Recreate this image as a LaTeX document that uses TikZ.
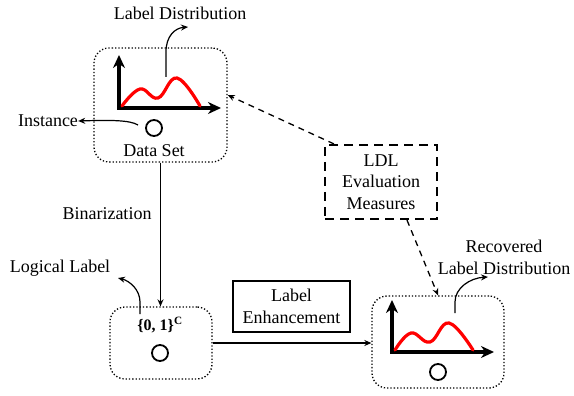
\documentclass[tikz,border=0pt]{standalone}
\usepackage{fontspec}
\setmainfont{Liberation Serif}
\usetikzlibrary{arrows.meta,calc}
\begin{document}
\begin{tikzpicture}[x=1pt,y=-1pt,
  lbl/.style={font=\fontsize{18}{22}\selectfont, inner sep=0pt, align=center},
  dotbox/.style={draw, dotted, line width=1.3pt, rounded corners=15pt, inner sep=0pt},
  inst/.style={draw, circle, line width=1.8pt, minimum size=16pt, inner sep=0pt},
  conn/.style={line width=1.2pt, -{Stealth[length=7pt,width=6pt]}},
  axis/.style={line width=3.5pt, {Stealth[length=13pt,width=12pt]}-{Stealth[length=13pt,width=12pt]}},
  curve/.style={red, line width=3.2pt, line cap=round},
  dashconn/.style={line width=1.3pt, dashed, dash pattern=on 6pt off 5pt, -{Stealth[length=7pt,width=6pt]}}
]
\useasboundingbox (0,0) rectangle (574,396);

% boxes
\node[dotbox, minimum width=133pt, minimum height=114pt] (ds) at (160.5,105) {};
\node[dotbox, minimum width=102pt, minimum height=72pt] (ll) at (161,343) {};
\node[dotbox, minimum width=132pt, minimum height=92pt] (rl) at (438,342) {};
\node[draw, line width=1.2pt, minimum width=117pt, minimum height=51pt, inner sep=0pt] (le) at (291.5,306.5) {};
\node[draw, line width=2.2pt, dashed, dash pattern=on 9pt off 6pt, minimum width=112pt, minimum height=74pt, inner sep=0pt] (ldl) at (381,182) {};

% texts
\node[lbl] (ldtext) at (180,13) {Label Distribution};
\node[lbl] (insttext) at (48,121) {Instance};
\node[lbl] (dstext) at (154,151) {Data Set};
\node[lbl] (bintext) at (107,214) {Binarization};
\node[lbl] (logtext) at (60,268) {Logical Label};
\node[lbl] (settext) at (160,325) {\fontsize{16}{18}\selectfont\bfseries \{0, 1\}$^{\mathbf{C}}$};
\node[lbl] (letext) at (le) {Label\\Enhancement};
\node[lbl, font=\fontsize{18}{21.5}\selectfont] (ldltext) at (ldl) {LDL\\Evaluation\\Measures};
\node[lbl] (rectext) at (504,257) {Recovered\\Label Distribution};

% instances
\node[inst] (c1) at (154,128) {};
\node[inst] (c2) at (160,353) {};
\node[inst] (c3) at (438,372) {};

% charts
\draw[axis] (119,55) -- (119,108) -- (221,108);
\draw[curve] plot[smooth, tension=0.7] coordinates {(122,106) (140,89) (158,98) (177,78) (200,106)};
\draw[axis] (392,300) -- (392,352) -- (494,352);
\draw[curve] plot[smooth, tension=0.7] coordinates {(395,350) (411,333) (430,342) (449,323) (473,350)};

% pointer arrows
\coordinate (ldsrc) at (166,77);
\coordinate (ldend) at (188,27);
\draw[conn] (ldsrc) -- (166,52) .. controls (166,36) and (175,28) .. (ldend);
\coordinate (instsrc) at (138,125);
\draw[conn] (instsrc) .. controls (130,120) and (110,120) .. (insttext.east);
\coordinate (llsrc) at (140,314);
\coordinate (llend) at (118,278);
\draw[conn] (llsrc) -- (140,302) .. controls (140,290) and (130,281) .. (llend);
\coordinate (rlsrc) at (455,313);
\coordinate (rlend) at (488,277);
\draw[conn] (rlsrc) -- (455,302) .. controls (455,288) and (470,278) .. (rlend);

% main flow
\draw[conn] (ds.south) -- (ds.south |- ll.north);
\draw[conn] (ll.east) -- (ll.east -| rl.west);

% dashed
\draw[dashconn] ([xshift=10pt]ldl.north west) -- ([yshift=10pt]ds.east);
\draw[dashconn] ([xshift=26pt]ldl.south) -- (rl.north);
\end{tikzpicture}
\end{document}
